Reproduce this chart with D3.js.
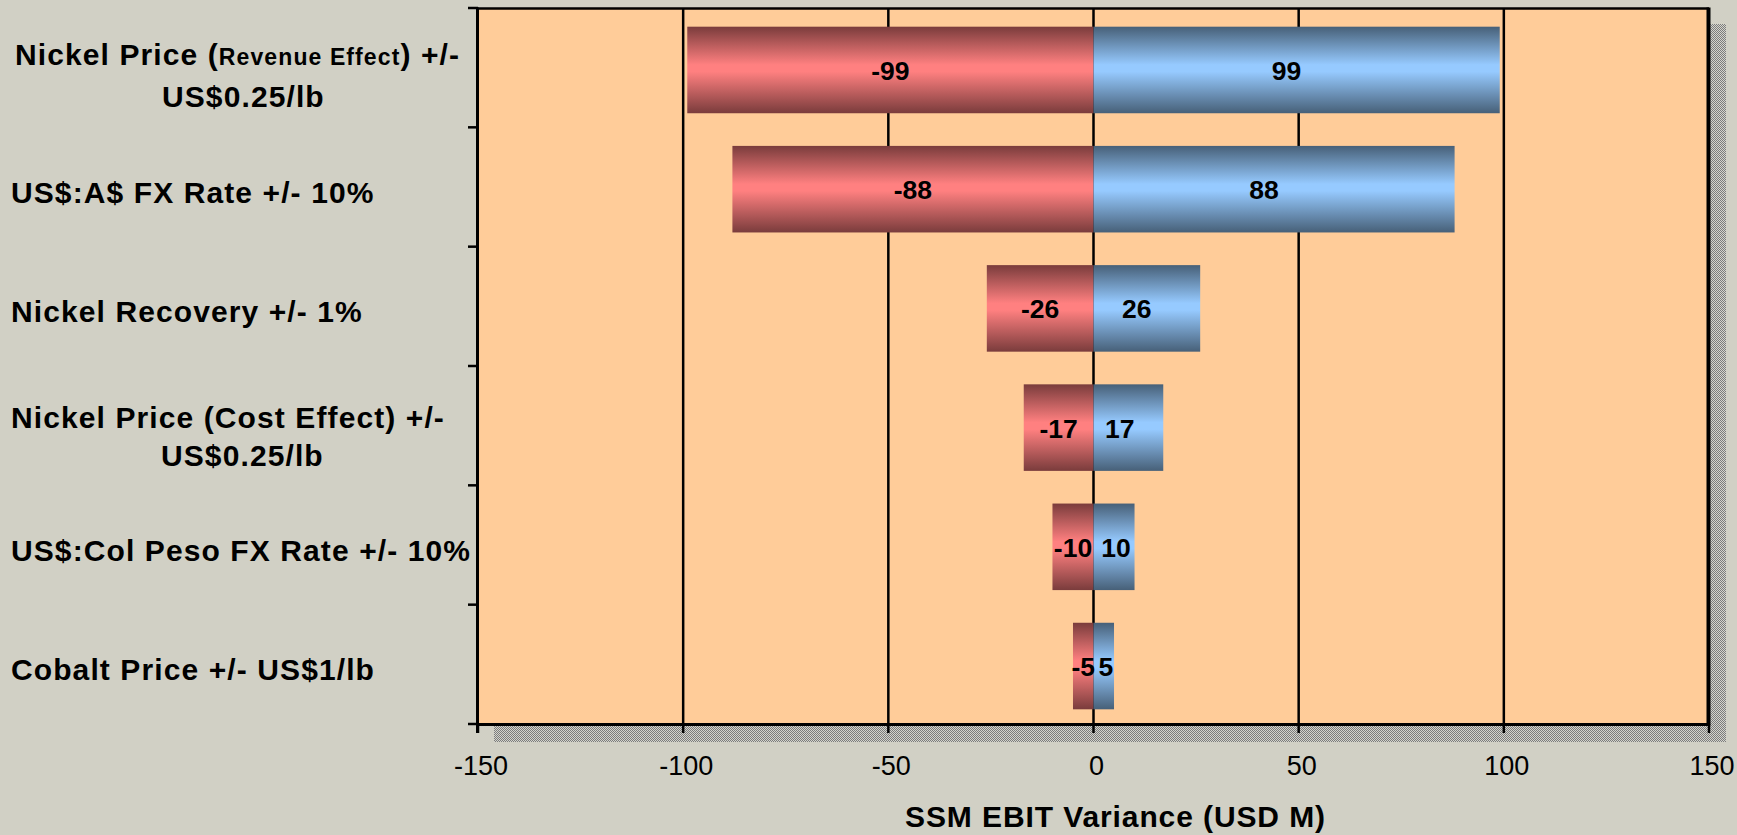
<!DOCTYPE html>
<html>
<head>
<meta charset="utf-8">
<script src="https://cdn.jsdelivr.net/npm/d3@7"></script>
<style>
  html, body { margin: 0; padding: 0; background: #d1d0c5; }
  svg { display: block; }
</style>
</head>
<body>
<svg id="chart" width="1737" height="835"></svg>
<script>
// Sensitivity of SSM EBIT to key drivers (USD M)
const categories = [
  "Nickel Price (Revenue Effect) +/- US$0.25/lb",
  "US$:A$ FX Rate +/- 10%",
  "Nickel Recovery +/- 1%",
  "Nickel Price (Cost Effect) +/- US$0.25/lb",
  "US$:Col Peso FX Rate +/- 10%",
  "Cobalt Price +/- US$1/lb"
];
const downside = [-99, -88, -26, -17, -10, -5];
const upside = [99, 88, 26, 17, 10, 5];
const xTicks = [-150, -100, -50, 0, 50, 100, 150];
const xTitle = "SSM EBIT Variance (USD M)";

// Category label lines; segments flagged "small" use the reduced font
const categoryLines = [
  [[{ t: "Nickel Price (" }, { t: "Revenue Effect", small: true }, { t: ") +/-" }], [{ t: "US$0.25/lb" }]],
  [[{ t: "US$:A$ FX Rate +/- 10%" }]],
  [[{ t: "Nickel Recovery +/- 1%" }]],
  [[{ t: "Nickel Price (Cost Effect) +/-" }], [{ t: "US$0.25/lb" }]],
  [[{ t: "US$:Col Peso FX Rate +/- 10%" }]],
  [[{ t: "Cobalt Price +/- US$1/lb" }]]
];

const W = 1737, H = 835;
const plot = { left: 478, right: 1709, top: 8, bottom: 724 };
const FONT = "'Liberation Sans', Arial, sans-serif";

const svg = d3.select("#chart");

const x = d3.scaleLinear().domain([-150, 150]).range([plot.left, plot.right]);
// bars sit in a padded band; category ticks use the plain partition
const y = d3.scaleBand().domain(categories).range([plot.top, plot.bottom])
  .paddingInner(0.274).paddingOuter(0.14).align(0.56);
const yCat = d3.scaleBand().domain(categories).range([plot.top, plot.bottom]).padding(0);

const defs = svg.append("defs");

// checkered drop shadow
const pat = defs.append("pattern").attr("id", "checker")
  .attr("width", 2).attr("height", 2).attr("patternUnits", "userSpaceOnUse");
pat.append("rect").attr("width", 2).attr("height", 2).attr("fill", "#d4d4cc");
pat.append("rect").attr("width", 1).attr("height", 1).attr("fill", "#7c7c7c");
pat.append("rect").attr("x", 1).attr("y", 1).attr("width", 1).attr("height", 1).attr("fill", "#7c7c7c");

function barGradient(id, edge, mid) {
  const g = defs.append("linearGradient").attr("id", id)
    .attr("x1", 0).attr("y1", 0).attr("x2", 0).attr("y2", 1);
  g.append("stop").attr("offset", "0%").attr("stop-color", edge);
  g.append("stop").attr("offset", "44%").attr("stop-color", mid);
  g.append("stop").attr("offset", "52%").attr("stop-color", mid);
  g.append("stop").attr("offset", "100%").attr("stop-color", edge);
}
barGradient("gradRed", "#7a3c3c", "#ff8080");
barGradient("gradBlue", "#476078", "#96caff");

// shadow + plot area
svg.append("rect")
  .attr("x", plot.left + 16).attr("y", plot.top + 16)
  .attr("width", plot.right - plot.left + 1).attr("height", plot.bottom - plot.top + 2)
  .attr("fill", "url(#checker)");
svg.append("rect")
  .attr("x", plot.left).attr("y", plot.top)
  .attr("width", plot.right - plot.left).attr("height", plot.bottom - plot.top)
  .attr("fill", "#ffcc99");

// vertical gridlines
svg.append("g").selectAll("line")
  .data(xTicks.filter(d => d > -150 && d < 150))
  .join("line")
  .attr("x1", d => x(d)).attr("x2", d => x(d))
  .attr("y1", plot.top).attr("y2", plot.bottom)
  .attr("stroke", "#000").attr("stroke-width", 2.5);

// bars
const rows = categories.map((c, i) => ({ c, lo: downside[i], hi: upside[i] }));
const bars = svg.append("g");
bars.selectAll("rect.neg").data(rows).join("rect").attr("class", "neg")
  .attr("x", d => x(d.lo)).attr("width", d => x(0) - x(d.lo))
  .attr("y", d => y(d.c)).attr("height", y.bandwidth())
  .attr("fill", "url(#gradRed)");
bars.selectAll("rect.pos").data(rows).join("rect").attr("class", "pos")
  .attr("x", x(0)).attr("width", d => x(d.hi) - x(0))
  .attr("y", d => y(d.c)).attr("height", y.bandwidth())
  .attr("fill", "url(#gradBlue)");

// value labels
const lbl = svg.append("g")
  .attr("font-family", FONT).attr("font-weight", "bold").attr("font-size", 26.5)
  .attr("text-anchor", "middle").attr("fill", "#000");
lbl.selectAll("text.neg").data(rows).join("text").attr("class", "neg")
  .attr("x", d => (x(d.lo) + x(0)) / 2)
  .attr("y", d => y(d.c) + y.bandwidth() / 2 + 10)
  .text(d => d.lo);
lbl.selectAll("text.pos").data(rows).join("text").attr("class", "pos")
  .attr("y", d => y(d.c) + y.bandwidth() / 2 + 10)
  .text(d => d.hi)
  .attr("x", function (d) {
    const w = x(d.hi) - x(0);
    const tw = this.getComputedTextLength();
    const shift = Math.max(-2, Math.min(10, (w - tw) / 2 - 11.5));
    return x(0) + w / 2 - shift;
  });

// x axis ticks below the frame
svg.append("g").selectAll("line").data(xTicks).join("line")
  .attr("x1", d => x(d)).attr("x2", d => x(d))
  .attr("y1", plot.bottom).attr("y2", plot.bottom + 9)
  .attr("stroke", "#000").attr("stroke-width", 2.5);
svg.append("g")
  .attr("font-family", FONT).attr("font-size", 27).attr("text-anchor", "middle").attr("fill", "#000")
  .selectAll("text").data(xTicks).join("text")
  .attr("x", d => x(d) + 3).attr("y", plot.bottom + 51)
  .text(d => d);

// category ticks on the left axis
const catEdges = categories.map(c => yCat(c)).concat([plot.bottom]);
svg.append("g").selectAll("line").data(catEdges).join("line")
  .attr("x1", plot.left - 10).attr("x2", plot.left)
  .attr("y1", d => d).attr("y2", d => d)
  .attr("stroke", "#000").attr("stroke-width", 2.5);

// frame
svg.append("line").attr("x1", plot.left).attr("x2", plot.right)
  .attr("y1", plot.top + 0.5).attr("y2", plot.top + 0.5).attr("stroke", "#000").attr("stroke-width", 2.5);
svg.append("line").attr("x1", plot.right - 0.5).attr("x2", plot.right - 0.5)
  .attr("y1", plot.top - 0.5).attr("y2", plot.bottom + 1.5).attr("stroke", "#000").attr("stroke-width", 4);
svg.append("line").attr("x1", plot.left - 0.5).attr("x2", plot.left - 0.5)
  .attr("y1", plot.top - 0.5).attr("y2", plot.bottom + 9).attr("stroke", "#000").attr("stroke-width", 3);
svg.append("line").attr("x1", plot.left - 2).attr("x2", plot.right)
  .attr("y1", plot.bottom + 0.5).attr("y2", plot.bottom + 0.5).attr("stroke", "#000").attr("stroke-width", 3);

// category labels
const catG = svg.append("g").attr("font-family", FONT).attr("font-weight", "bold")
  .attr("fill", "#000").attr("letter-spacing", 1.1);
const lineStarts = [[15, 162], [11], [11], [11, 161], [11], [11]];
const twoLineOffsets = [[-2.5, 39.5], null, null, [2, 40.5], null, null];
categoryLines.forEach((lines, i) => {
  const cy = yCat(categories[i]) + yCat.bandwidth() / 2;
  const baselines = lines.length === 1 ? [cy + 16] : twoLineOffsets[i].map(o => cy + o);
  lines.forEach((segs, j) => {
    const t = catG.append("text").attr("x", lineStarts[i][j]).attr("y", baselines[j]).attr("font-size", 30);
    segs.forEach(s => t.append("tspan").attr("font-size", s.small ? 23 : 30).text(s.t));
  });
});

// axis title
svg.append("text")
  .attr("x", (plot.left + plot.right) / 2 + 22).attr("y", 827)
  .attr("text-anchor", "middle")
  .attr("font-family", FONT).attr("font-weight", "bold").attr("font-size", 30)
  .attr("letter-spacing", 0.9)
  .attr("fill", "#000")
  .text(xTitle);
</script>
</body>
</html>
